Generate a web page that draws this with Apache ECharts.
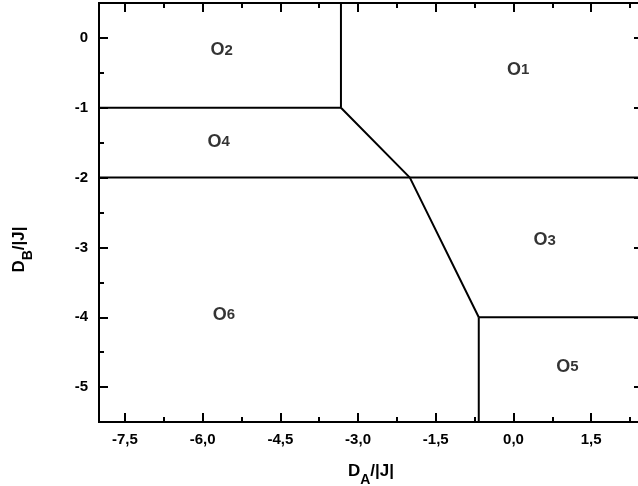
<!DOCTYPE html>
<html>
<head>
<meta charset="utf-8">
<script src="https://cdn.jsdelivr.net/npm/echarts@6/dist/echarts.min.js"></script>
<style>
  html, body { margin: 0; padding: 0; background: #fff; }
  #main { width: 638px; height: 486px; }
</style>
</head>
<body>
<div id="main"></div>
<script>
// axis ranges and ticks
const xRange = [-8, 2.5];
const yRange = [-5.5, 0.5];
const xMajor = [-7.5, -6, -4.5, -3, -1.5, 0, 1.5];
const xMinor = [-6.75, -5.25, -3.75, -2.25, -0.75, 0.75, 2.25];
const yMajor = [0, -1, -2, -3, -4, -5];
const yMinor = [-0.5, -1.5, -2.5, -3.5, -4.5];

// phase boundaries
const lineO2O1 = [[-3.33, 0.5], [-3.33, -1]];
const lineO2O4 = [[-8, -1], [-3.33, -1]];
const lineSlant = [[-3.33, -1], [-2, -2], [-0.67, -4]];
const lineMinus2 = [[-8, -2], [2.5, -2]];
const lineO3O5 = [[-0.67, -4], [2.5, -4]];
const lineO6O5 = [[-0.67, -4], [-0.67, -5.5]];

// region labels
const phaseNames = ['1', '2', '3', '4', '5', '6'];
const phaseX = [0.09, -5.63, 0.6, -5.69, 1.04, -5.59];
const phaseY = [-0.46, -0.18, -2.9, -1.49, -4.71, -3.97];

const fontFam = '"Liberation Sans", Arial, sans-serif';
const lineStyle = { color: '#000', width: 2 };

function fmtX(v) { return v.toFixed(1).replace('.', ','); }

function xAx(pos, vals, len, labels) {
    return {
        type: 'value', position: pos, min: xRange[0], max: xRange[1],
        axisLine: { show: true, onZero: false, lineStyle: lineStyle },
        splitLine: { show: false },
        axisTick: { show: true, inside: true, length: len, customValues: vals, lineStyle: lineStyle },
        axisLabel: labels ? {
            show: true, customValues: vals, formatter: fmtX, margin: 10,
            color: '#000', fontSize: 15, fontWeight: 'bold', fontFamily: fontFam
        } : { show: false }
    };
}
function yAx(pos, vals, len, labels) {
    return {
        type: 'value', position: pos, min: yRange[0], max: yRange[1],
        axisLine: { show: true, onZero: false, lineStyle: lineStyle },
        splitLine: { show: false },
        axisTick: { show: true, inside: true, length: len, customValues: vals, lineStyle: lineStyle },
        axisLabel: labels ? {
            show: true, customValues: vals, margin: 11,
            color: '#000', fontSize: 15, fontWeight: 'bold', fontFamily: fontFam
        } : { show: false }
    };
}

const nameRich = {
    d: { fontSize: 17, fontWeight: 'bold', fontFamily: fontFam, color: '#000', padding: [0, 0, 7, 0], verticalAlign: 'bottom' },
    s: { fontSize: 14, fontWeight: 'bold', fontFamily: fontFam, color: '#000', verticalAlign: 'bottom' }
};

const xAxes = [
    Object.assign(xAx('bottom', xMajor, 9, true), {
        name: '{d|D}{s|A}{d|/|J|}', nameLocation: 'middle', nameGap: 41,
        nameTextStyle: { rich: nameRich }
    }),
    xAx('bottom', xMinor, 5, false),
    xAx('top', xMajor, 9, false),
    xAx('top', xMinor, 5, false)
];
const yAxes = [
    Object.assign(yAx('left', yMajor, 9, true), {
        name: '{d|D}{s|B}{d|/|J|}', nameLocation: 'middle', nameGap: 64,
        nameTextStyle: { rich: nameRich, padding: [0, 74, 0, 0] }
    }),
    yAx('left', yMinor, 5, false),
    yAx('right', yMajor, 9, false),
    yAx('right', yMinor, 5, false)
];
// keep the extra axes on the grid edges
xAxes.forEach(a => { a.offset = 0; });
yAxes.forEach(a => { a.offset = 0; });

function seg(data) {
    return {
        type: 'line', data: data, symbol: 'none', silent: true,
        lineStyle: { color: '#000', width: 2 }, animation: false
    };
}

const labelData = phaseNames.map((n, i) => ({ value: [phaseX[i], phaseY[i]], name: n }));

const chart = echarts.init(document.getElementById('main'));
chart.setOption({
    animation: false,
    grid: { left: 99, top: 3, right: -5, bottom: 64, containLabel: false, outerBoundsMode: 'none' },
    xAxis: xAxes,
    yAxis: yAxes,
    series: [
        seg(lineO2O1), seg(lineO2O4), seg(lineSlant),
        seg(lineMinus2), seg(lineO3O5), seg(lineO6O5),
        {
            type: 'scatter', data: labelData, symbolSize: 0, silent: true,
            label: {
                show: true, position: 'inside', color: '#000',
                formatter: p => '{o|O}{n|' + p.name + '}',
                rich: {
                    o: { fontSize: 18, fontWeight: 'bold', fontFamily: fontFam, color: '#000' },
                    n: { fontSize: 15, fontWeight: 'bold', fontFamily: fontFam, color: '#000' }
                }
            }
        }
    ]
});
</script>
</body>
</html>
